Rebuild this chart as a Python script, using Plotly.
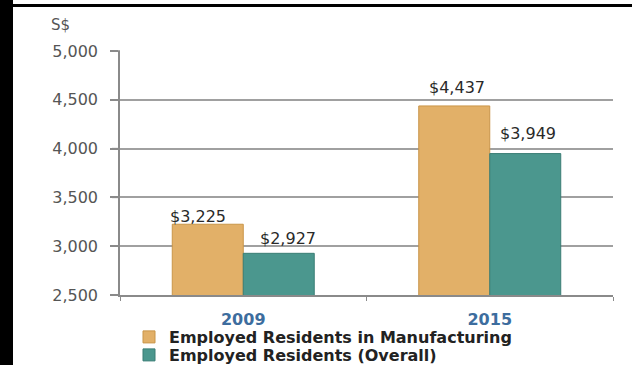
import plotly.graph_objects as go

categories = ["2009", "2015"]
manufacturing = [3225, 4437]
overall = [2927, 3949]
series_names = ["Employed Residents in Manufacturing", "Employed Residents (Overall)"]
y_ticks = [2500, 3000, 3500, 4000, 4500, 5000]
y_tick_labels = ["2,500", "3,000", "3,500", "4,000", "4,500", "5,000"]
y_unit_label = "S$"

W, H = 632, 365
L, R, T, B = 120, 19, 51, 70
pw = W - L - R
ph = H - T - B
y_range = [2500, 5000]

gold = "#E2B068"
teal = "#4B978E"

fig = go.Figure()
fig.add_trace(go.Bar(x=categories, y=manufacturing, name=series_names[0], legend="legend",
                     marker=dict(color=gold, line=dict(color="#C99548", width=1))))
fig.add_trace(go.Bar(x=categories, y=overall, name=series_names[1], legend="legend2",
                     marker=dict(color=teal, line=dict(color="#3A7D75", width=1))))

# value labels
offsets = [-35.5, 35.5]
label_lift = [[9, 16], [20, 22]]   # per category: [gold, teal]
label_dx = [[-10, 9], [3, 3]]
for si, vals in enumerate([manufacturing, overall]):
    for ci, v in enumerate(vals):
        fig.add_annotation(x=ci, y=v, xref="x", yref="y",
                           text="$" + f"{v:,}", showarrow=False,
                           xshift=offsets[si] + label_dx[ci][si], yshift=label_lift[ci][si] - 13,
                           yanchor="bottom",
                           font=dict(family="DejaVu Sans", size=16, color="#2a2a2a"))

fig.add_annotation(x=(49 - L) / pw, y=(H - B - 25) / ph, xref="paper", yref="paper",
                   text=y_unit_label, showarrow=False, xanchor="left", yanchor="middle",
                   font=dict(family="DejaVu Sans", size=15, color="#555555"))

# y-axis tick marks at the axis tick values (paper coords so they are not clipped)
for t in y_ticks:
    yp = (t - y_range[0]) / (y_range[1] - y_range[0])
    fig.add_shape(type="line", xref="paper", yref="paper", x0=-8 / pw, x1=0, y0=yp, y1=yp,
                  line=dict(color="#8a8a8a", width=1.5))

# black frame remnants at the left and top edges
fig.add_shape(type="rect", xref="paper", yref="paper",
              x0=(0 - L) / pw, x1=(13 - L) / pw, y0=(H - B - H) / ph, y1=(H - B) / ph,
              fillcolor="black", line=dict(width=0), layer="above")
fig.add_shape(type="rect", xref="paper", yref="paper",
              x0=(0 - L) / pw, x1=(W - L) / pw, y0=(H - B - 7) / ph, y1=(H - B - 4) / ph,
              fillcolor="black", line=dict(width=0), layer="above")

legend_font = dict(family="DejaVu Sans", size=16, color="#222222", weight="bold")
fig.update_layout(
    width=W, height=H,
    margin=dict(l=L, r=R, t=T, b=B, autoexpand=False),
    paper_bgcolor="white", plot_bgcolor="white",
    barmode="group", bargap=0.424, bargroupgap=0,
    showlegend=True,
    legend=dict(x=(129 - L) / pw, y=(H - B - 320) / ph, xanchor="left", yanchor="top",
                font=legend_font, bgcolor="rgba(0,0,0,0)", itemclick=False),
    legend2=dict(x=(129 - L) / pw, y=(H - B - 338) / ph, xanchor="left", yanchor="top",
                 font=legend_font, bgcolor="rgba(0,0,0,0)", itemclick=False),
    xaxis=dict(type="category", range=[-0.5, 1.5], showgrid=False, showline=True,
               linecolor="#8a8a8a", linewidth=1.5,
               ticks="outside", tickson="boundaries", ticklen=4, tickcolor="#8a8a8a",
               tickfont=dict(family="DejaVu Sans", size=16, color="#3D6D9E", weight="bold"),
               ticklabelstandoff=9),
    yaxis=dict(range=y_range, tickvals=y_ticks, ticktext=y_tick_labels,
               showgrid=True, gridcolor="#a0a0a0", gridwidth=1.5,
               showline=True, linecolor="#8a8a8a", linewidth=1.5,
               ticks="outside", ticklen=8, tickwidth=1.5, tickcolor="#8a8a8a",
               ticklabelstandoff=9,
               tickfont=dict(family="DejaVu Sans", size=16, color="#555555"),
               zeroline=False),
)

fig.write_html("out.html")
